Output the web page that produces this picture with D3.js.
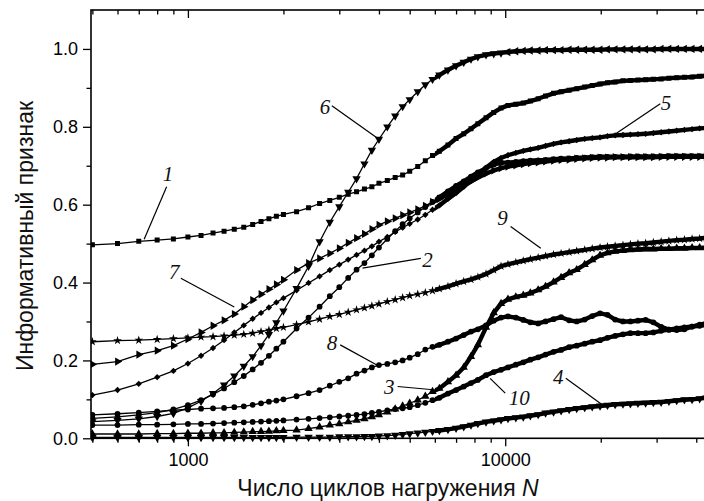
<!DOCTYPE html>
<html>
<head>
<meta charset="utf-8">
<script src="https://cdn.jsdelivr.net/npm/d3@7"></script>
<style>
  body { margin: 0; background: #fff; }
  svg { display: block; }
  .axis path.domain { display: none; }
  .axis line { stroke: #000; stroke-width: 1.3; }
  .axis text { font-family: 'Liberation Sans', Arial, sans-serif; font-size: 18px; fill: #000; }
  .title { font-family: 'Liberation Sans', Arial, sans-serif; font-size: 23px; fill: #111; }
  .num { font-family: 'Liberation Serif', 'Times New Roman', serif; font-style: italic; font-size: 21px; fill: #111; }
</style>
</head>
<body>
<svg class="chart"></svg>
<script>
var cycles = [500, 600, 700, 800, 900, 1000, 1100, 1200, 1300, 1400, 1500, 1600, 1700, 1800, 1900, 2000,
  2200, 2400, 2600, 2800, 3000, 3200, 3400, 3600, 3800, 4000, 4250, 4500, 4750, 5000,
  5300, 5600, 5900, 6200, 6600, 7000, 7400, 7800, 8200, 8700, 9200, 9700, 10200,
  10800, 11400, 12000, 12700, 13400, 14200, 15000, 15900, 16800, 17800, 18800, 19900,
  21000, 22200, 23500, 24800, 26200, 27700, 29300, 31000, 32800, 34700, 36700, 38800, 41000, 43000];

var curve1 = [0.497, 0.500, 0.506, 0.509, 0.512, 0.517, 0.521, 0.527, 0.532, 0.537, 0.542, 0.549, 0.557, 0.564, 0.570, 0.575,
  0.582, 0.592, 0.603, 0.611, 0.619, 0.627, 0.633, 0.640, 0.646, 0.655, 0.662, 0.670, 0.676, 0.686,
  0.698, 0.713, 0.726, 0.737, 0.753, 0.770, 0.782, 0.795, 0.808, 0.823, 0.837, 0.848, 0.855,
  0.858, 0.861, 0.866, 0.872, 0.879, 0.886, 0.890, 0.894, 0.898, 0.902, 0.906, 0.910,
  0.913, 0.915, 0.918, 0.919, 0.920, 0.921, 0.922, 0.923, 0.925, 0.926, 0.927, 0.928, 0.930, 0.931];
var curve2 = [0.051, 0.055, 0.060, 0.066, 0.074, 0.085, 0.098, 0.113, 0.128, 0.144, 0.160, 0.177, 0.194, 0.212, 0.230, 0.248,
  0.282, 0.310, 0.338, 0.365, 0.388, 0.412, 0.433, 0.450, 0.470, 0.490, 0.512, 0.532, 0.550, 0.565,
  0.580, 0.594, 0.607, 0.619, 0.634, 0.648, 0.660, 0.672, 0.683, 0.694, 0.703, 0.708, 0.708,
  0.710, 0.712, 0.713, 0.714, 0.715, 0.717, 0.718, 0.719, 0.720, 0.721, 0.722, 0.723,
  0.723, 0.723, 0.723, 0.724, 0.724, 0.724, 0.724, 0.724, 0.725, 0.725, 0.725, 0.725, 0.725, 0.725];
var curve3 = [0.011, 0.011, 0.011, 0.012, 0.012, 0.013, 0.013, 0.014, 0.014, 0.015, 0.016, 0.017, 0.017, 0.018, 0.019, 0.020,
  0.021, 0.025, 0.029, 0.034, 0.037, 0.042, 0.046, 0.050, 0.055, 0.060, 0.067, 0.075, 0.083, 0.090,
  0.098, 0.108, 0.120, 0.128, 0.145, 0.162, 0.182, 0.210, 0.240, 0.285, 0.322, 0.346, 0.357,
  0.363, 0.367, 0.373, 0.381, 0.390, 0.401, 0.413, 0.425, 0.433, 0.446, 0.458, 0.470,
  0.476, 0.480, 0.482, 0.484, 0.485, 0.486, 0.486, 0.487, 0.487, 0.488, 0.488, 0.489, 0.489, 0.490];
var curve4 = [0.002, 0.002, 0.002, 0.002, 0.002, 0.002, 0.002, 0.002, 0.002, 0.002, 0.002, 0.002, 0.002, 0.002, 0.002, 0.002,
  0.003, 0.003, 0.003, 0.003, 0.004, 0.004, 0.004, 0.005, 0.005, 0.006, 0.007, 0.008, 0.010, 0.012,
  0.014, 0.016, 0.018, 0.020, 0.023, 0.026, 0.030, 0.034, 0.038, 0.042, 0.045, 0.048, 0.051,
  0.053, 0.055, 0.058, 0.061, 0.065, 0.068, 0.071, 0.074, 0.077, 0.079, 0.081, 0.083,
  0.085, 0.087, 0.088, 0.089, 0.090, 0.091, 0.092, 0.093, 0.095, 0.097, 0.099, 0.100, 0.102, 0.104];
var curve5 = [0.111, 0.124, 0.140, 0.157, 0.173, 0.192, 0.212, 0.232, 0.252, 0.272, 0.290, 0.307, 0.322, 0.336, 0.349, 0.360,
  0.380, 0.399, 0.416, 0.432, 0.446, 0.459, 0.471, 0.482, 0.493, 0.505, 0.517, 0.530, 0.541, 0.551,
  0.562, 0.574, 0.587, 0.598, 0.615, 0.630, 0.646, 0.662, 0.678, 0.695, 0.710, 0.720, 0.727,
  0.733, 0.738, 0.742, 0.746, 0.751, 0.756, 0.760, 0.763, 0.766, 0.769, 0.771, 0.773,
  0.776, 0.778, 0.779, 0.780, 0.781, 0.782, 0.784, 0.786, 0.788, 0.790, 0.792, 0.794, 0.796, 0.797];
var curve6 = [0.043, 0.046, 0.050, 0.056, 0.064, 0.078, 0.095, 0.115, 0.137, 0.160, 0.185, 0.210, 0.238, 0.267, 0.297, 0.327,
  0.385, 0.442, 0.505, 0.555, 0.595, 0.632, 0.667, 0.705, 0.740, 0.768, 0.800, 0.828, 0.852, 0.870,
  0.890, 0.908, 0.922, 0.933, 0.946, 0.957, 0.966, 0.974, 0.980, 0.985, 0.988, 0.990, 0.992,
  0.994, 0.995, 0.996, 0.996, 0.997, 0.997, 0.997, 0.998, 0.998, 0.998, 0.998, 0.998,
  0.999, 0.999, 0.999, 0.999, 0.999, 0.999, 0.999, 1.000, 1.000, 1.000, 1.000, 1.000, 1.000, 1.000];
var curve7 = [0.190, 0.197, 0.215, 0.225, 0.238, 0.255, 0.272, 0.289, 0.303, 0.319, 0.338, 0.355, 0.370, 0.383, 0.395, 0.407,
  0.432, 0.450, 0.462, 0.475, 0.488, 0.502, 0.514, 0.525, 0.537, 0.548, 0.557, 0.565, 0.573, 0.580,
  0.588, 0.597, 0.607, 0.615, 0.627, 0.638, 0.650, 0.660, 0.670, 0.680, 0.688, 0.694, 0.698,
  0.701, 0.704, 0.707, 0.709, 0.711, 0.713, 0.715, 0.716, 0.718, 0.719, 0.720, 0.721,
  0.721, 0.722, 0.722, 0.722, 0.722, 0.722, 0.722, 0.723, 0.723, 0.723, 0.723, 0.723, 0.723, 0.723];
var curve8 = [0.060, 0.063, 0.066, 0.069, 0.072, 0.074, 0.076, 0.077, 0.078, 0.080, 0.082, 0.086, 0.090, 0.094, 0.097, 0.100,
  0.108, 0.116, 0.124, 0.135, 0.145, 0.154, 0.166, 0.174, 0.182, 0.188, 0.191, 0.195, 0.200, 0.207,
  0.216, 0.228, 0.235, 0.240, 0.248, 0.256, 0.265, 0.274, 0.280, 0.290, 0.302, 0.310, 0.313,
  0.310, 0.304, 0.298, 0.295, 0.300, 0.306, 0.311, 0.303, 0.300, 0.305, 0.314, 0.321,
  0.317, 0.305, 0.300, 0.300, 0.302, 0.304, 0.298, 0.286, 0.279, 0.278, 0.280, 0.287, 0.292, 0.295];
var curve9 = [0.248, 0.251, 0.252, 0.254, 0.256, 0.258, 0.260, 0.261, 0.263, 0.265, 0.267, 0.270, 0.274, 0.278, 0.282, 0.285,
  0.292, 0.299, 0.306, 0.313, 0.318, 0.324, 0.330, 0.335, 0.340, 0.345, 0.351, 0.356, 0.361, 0.366,
  0.370, 0.374, 0.379, 0.384, 0.390, 0.397, 0.403, 0.408, 0.414, 0.422, 0.432, 0.442, 0.447,
  0.452, 0.456, 0.460, 0.464, 0.468, 0.472, 0.475, 0.478, 0.481, 0.484, 0.487, 0.490,
  0.492, 0.494, 0.496, 0.498, 0.500, 0.501, 0.503, 0.505, 0.507, 0.509, 0.510, 0.512, 0.513, 0.515];
var curve10 = [0.034, 0.034, 0.035, 0.035, 0.036, 0.037, 0.037, 0.038, 0.039, 0.040, 0.041, 0.042, 0.043, 0.044, 0.045, 0.046,
  0.048, 0.050, 0.052, 0.054, 0.056, 0.058, 0.060, 0.062, 0.065, 0.068, 0.072, 0.075, 0.077, 0.080,
  0.085, 0.091, 0.098, 0.104, 0.115, 0.124, 0.133, 0.142, 0.150, 0.162, 0.170, 0.176, 0.182,
  0.189, 0.195, 0.202, 0.208, 0.215, 0.222, 0.227, 0.234, 0.238, 0.243, 0.248, 0.252,
  0.258, 0.263, 0.267, 0.270, 0.270, 0.270, 0.272, 0.276, 0.279, 0.282, 0.285, 0.287, 0.289, 0.291];

var series = [curve1, curve2, curve3, curve4, curve5, curve6, curve7, curve8, curve9, curve10];

// tick values
var majorX = [1000, 10000];
var minorX = [500, 600, 700, 800, 900, 2000, 3000, 4000, 5000, 6000, 7000, 8000, 9000, 20000, 30000, 40000];
var majorY = [0, 0.2, 0.4, 0.6, 0.8, 1.0];
var minorY = [0.1, 0.3, 0.5, 0.7, 0.9];

// curve numbers: label position, leader start, leader end (cycles, value)
var labelText = ['1', '2', '3', '4', '5', '6', '7', '8', '9', '10'];
var labelAt = [[866, 0.678], [5694, 0.458], [4310, 0.133], [14690, 0.158], [32100, 0.861],
  [2703, 0.852], [905, 0.428], [2843, 0.244], [9813, 0.565], [11070, 0.103]];
var leaderFrom = [[857, 0.646], [5420, 0.462], [4580, 0.133], [15520, 0.154], [30800, 0.859],
  [2842, 0.854], [950, 0.411], [3020, 0.240], [10400, 0.544], [10000, 0.116]];
var leaderTo = [[728, 0.511], [3550, 0.437], [6050, 0.124], [20220, 0.086], [22000, 0.779],
  [3940, 0.772], [1400, 0.337], [3940, 0.188], [12940, 0.488], [8960, 0.154]];

var width = 704;
var height = 501;

var x = d3.scaleLog().domain([495, 45000]).range([91, 712.5]);
var y = d3.scaleLinear().domain([0, 1.1]).range([438.3, 10]);

var svg = d3.select('.chart').attr('width', width).attr('height', height);

// marker shapes
var tri = d3.symbolTriangle;
var markerType = [d3.symbolSquare, d3.symbolCircle, tri, tri, d3.symbolSquare, tri, tri,
  d3.symbolCircle, d3.symbolStar, d3.symbolCircle];
var markerSize = [25, 26, 30, 30, 20, 30, 30, 26, 24, 26];
function markerRotate(i, n) {
  if (i === 3) return 180;
  if (i === 4) return 45;
  if (i === 5) return n < 10000 ? 180 : -90;
  if (i === 6) return 90;
  return 0;
}

svg.append('defs').append('clipPath').attr('id', 'plot')
    .append('rect')
    .attr('x', x(495)).attr('y', y(1.1))
    .attr('width', x(45000) - x(495)).attr('height', y(0) - y(1.1) + 4);
svg.select('defs').append('clipPath').attr('id', 'dense')
    .append('rect')
    .attr('x', x(6000)).attr('y', 0)
    .attr('width', width).attr('height', height);

var line = d3.line()
    .x((d, i) => x(cycles[i]))
    .y(d => y(d));

var plot = svg.append('g').attr('clip-path', 'url(#plot)');

series.forEach(function(values, si) {
  var g = plot.append('g').attr('class', 'curve c' + (si + 1));
  g.append('path')
      .attr('d', line(values))
      .attr('fill', 'none')
      .attr('stroke', '#000')
      .attr('stroke-width', 1.3);
  // where the original points crowd together they form a solid band
  g.append('path')
      .attr('d', line(values))
      .attr('clip-path', 'url(#dense)')
      .attr('fill', 'none')
      .attr('stroke', '#000')
      .attr('stroke-width', 4.4)
      .attr('stroke-linejoin', 'round');
  g.selectAll('path.pt')
      .data(values)
      .join('path')
      .attr('class', 'pt')
      .attr('d', d3.symbol().type(markerType[si]).size(markerSize[si]))
      .attr('transform', (d, i) => 'translate(' + x(cycles[i]) + ',' + y(d) + ') rotate(' +
          markerRotate(si, cycles[i]) + ')')
      .attr('fill', '#000');
});

// axes
svg.append('g').attr('class', 'axis')
    .attr('transform', 'translate(0,' + y(0) + ')')
    .call(d3.axisBottom(x).tickValues(majorX).tickSize(8).tickPadding(7).tickFormat(d3.format('d')));
svg.append('g').attr('class', 'axis')
    .attr('transform', 'translate(0,' + y(0) + ')')
    .call(d3.axisBottom(x).tickValues(minorX).tickSize(4.5).tickFormat(''));
svg.append('g').attr('class', 'axis')
    .attr('transform', 'translate(0,' + y(1.1) + ')')
    .call(d3.axisBottom(x).tickValues(majorX).tickSize(8).tickFormat(''));
svg.append('g').attr('class', 'axis')
    .attr('transform', 'translate(0,' + y(1.1) + ')')
    .call(d3.axisBottom(x).tickValues(minorX).tickSize(4.5).tickFormat(''));
svg.append('g').attr('class', 'axis')
    .attr('transform', 'translate(' + x(495) + ',0)')
    .call(d3.axisLeft(y).tickValues(majorY).tickSize(8).tickPadding(5).tickFormat(d3.format('.1f')));
svg.append('g').attr('class', 'axis')
    .attr('transform', 'translate(' + x(495) + ',0)')
    .call(d3.axisLeft(y).tickValues(minorY).tickSize(4.5).tickFormat(''));

svg.append('rect')
    .attr('x', x(495)).attr('y', y(1.1))
    .attr('width', x(45000) - x(495)).attr('height', y(0) - y(1.1))
    .attr('fill', 'none')
    .attr('stroke', '#000')
    .attr('stroke-width', 1.6);

// curve numbers with leader lines
var notes = svg.append('g');
labelText.forEach(function(t, i) {
  notes.append('line')
      .attr('x1', x(leaderFrom[i][0])).attr('y1', y(leaderFrom[i][1]))
      .attr('x2', x(leaderTo[i][0])).attr('y2', y(leaderTo[i][1]))
      .attr('stroke', '#000')
      .attr('stroke-width', 1.2);
  notes.append('text')
      .attr('class', 'num')
      .attr('x', x(labelAt[i][0])).attr('y', y(labelAt[i][1]))
      .attr('text-anchor', 'middle')
      .attr('dominant-baseline', 'central')
      .text(t);
});

// axis titles
var xt = svg.append('text')
    .attr('class', 'title')
    .attr('x', 388)
    .attr('y', 496)
    .attr('text-anchor', 'middle');
xt.append('tspan').text('Число циклов нагружения ');
xt.append('tspan').attr('font-style', 'italic').text('N');

svg.append('text')
    .attr('class', 'title')
    .attr('transform', 'translate(33,236) rotate(-90)')
    .attr('text-anchor', 'middle')
    .text('Информативный признак');
</script>
</body>
</html>
